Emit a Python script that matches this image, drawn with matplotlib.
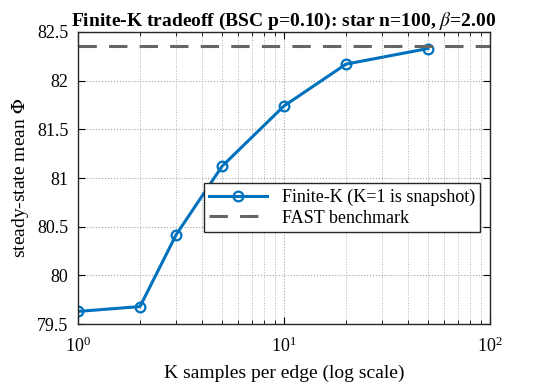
import matplotlib
matplotlib.use("Agg")
import matplotlib.pyplot as plt
from matplotlib.ticker import FuncFormatter, LogLocator, NullFormatter

plt.rcParams['font.family'] = ['Liberation Serif', 'DejaVu Serif']
plt.rcParams['mathtext.fontset'] = 'stix'

K = [1, 2, 3, 5, 10, 20, 50]
phi = [79.63, 79.68, 80.42, 81.12, 81.74, 82.17, 82.33]
fast = 82.36
yticks = [79.5, 80, 80.5, 81, 81.5, 82, 82.5]

blue = (0, 0.447, 0.741)

fig = plt.figure(figsize=(5.4, 3.9), dpi=100)
ax = fig.add_axes([0.1444, 0.169, 0.7630, 0.749])

ax.plot(K, phi, '-o', color=blue, lw=2.2, ms=7, mfc='none', mew=1.6,
        label='Finite-K (K=1 is snapshot)')
ax.axhline(fast, color=(0.4, 0.4, 0.4), ls=(0, (6, 4)), lw=2.2, label='FAST benchmark')

ax.set_xscale('log')
ax.set_xlim(1, 100)
ax.set_ylim(79.5, 82.5)
ax.set_yticks(yticks)
ax.yaxis.set_major_formatter(FuncFormatter(lambda v, p: '%g' % v))
ax.xaxis.set_major_locator(LogLocator(base=10))
ax.xaxis.set_minor_locator(LogLocator(base=10, subs=range(2, 10)))
ax.xaxis.set_minor_formatter(NullFormatter())

ax.grid(True, which='major', ls=':', color='0.65', lw=0.8)
ax.grid(True, which='minor', axis='x', ls=':', color='0.7', lw=0.7)
ax.tick_params(which='both', direction='in', top=True, right=True, labelsize=13)
ax.tick_params(which='major', length=5)
ax.tick_params(which='minor', length=3)
ax.tick_params(axis='x', which='major', pad=9)
ax.tick_params(axis='y', which='major', pad=7)
for s in ax.spines.values():
    s.set_linewidth(1.0)
    s.set_color('0.15')

ax.set_xlabel('K samples per edge (log scale)', fontsize=14, labelpad=6)
ax.set_ylabel(r'steady-state mean $\Phi$', fontsize=14)
ax.set_title(r'Finite-K tradeoff (BSC p=0.10): star n=100, $\beta$=2.00',
             fontsize=14, fontweight='bold', pad=4)

leg = ax.legend(loc='lower left', bbox_to_anchor=(0.284, 0.284), fontsize=13,
                fancybox=False, framealpha=1, edgecolor='0.15',
                handlelength=3.2, borderpad=0.3, labelspacing=0.2)
leg.get_frame().set_linewidth(1.0)

fig.savefig('out.png', dpi=100)
